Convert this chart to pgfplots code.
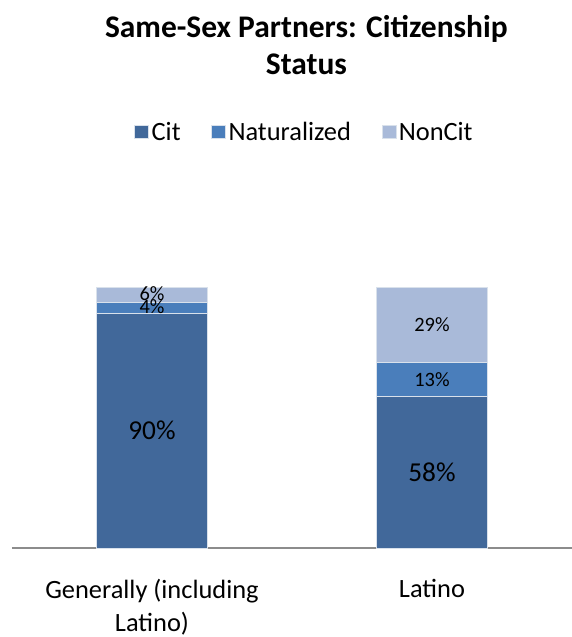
\documentclass[border=0pt]{standalone}
\usepackage{pgfplots}
\pgfplotsset{compat=1.18}
\usepackage{fontspec}
\setmainfont{Carlito}
\definecolor{cit}{HTML}{41689A}
\definecolor{nat}{HTML}{4A7EBB}
\definecolor{non}{HTML}{A9BAD9}
\begin{document}
\begin{tikzpicture}
\begin{axis}[
  at={(9pt,66.75pt)}, anchor=south west,
  scale only axis, width=420pt, height=195.75pt,
  ybar stacked, bar width=83pt,
  xmin=-0.5, xmax=1.5, ymin=0, ymax=100,
  axis y line=none, axis x line*=bottom,
  x axis line style={draw=gray!90, line width=1pt, -},
  xtick={0,1}, xtick style={draw=none},
  xticklabels={{Generally (including\\Latino)},{Latino}},
  xticklabel style={align=center, font=\fontsize{19.8}{24.75}\selectfont, yshift=-20pt},
  legend style={at={(axis description cs:0.523,1.594)}, anchor=center, draw=none,
    font=\fontsize{19.8}{22}\selectfont, legend columns=-1,
    /tikz/every even column/.append style={column sep=21pt}},
  legend image code/.code={\fill[#1] (0pt,-5pt) rectangle (10.5pt,5pt);},
  clip=false,
]
\addplot[fill=cit, draw=white!80!cit, line width=0.4pt] coordinates {(0,90) (1,58)};
\addplot[fill=nat, draw=white!80!cit, line width=0.4pt] coordinates {(0,4) (1,13)};
\addplot[fill=non, draw=white!80!cit, line width=0.4pt] coordinates {(0,6) (1,29)};
\legend{Cit,Naturalized,NonCit}
\coordinate (l1) at (axis cs:0,45);
\coordinate (l2) at (axis cs:1,29);
\coordinate (l3) at (axis cs:0,92.3);
\coordinate (l4) at (axis cs:0,97.3);
\coordinate (l5) at (axis cs:1,64.5);
\coordinate (l6) at (axis cs:1,85.5);
\end{axis}
\node[font=\fontsize{20.5}{22}\selectfont] at (l1) {90\%};
\node[font=\fontsize{20.5}{22}\selectfont] at (l2) {58\%};
\node[font=\fontsize{15.3}{16}\selectfont] at (l3) {4\%};
\node[font=\fontsize{15.3}{16}\selectfont] at (l4) {6\%};
\node[font=\fontsize{15.3}{16}\selectfont] at (l5) {13\%};
\node[font=\fontsize{15.3}{16}\selectfont] at (l6) {29\%};
\node[font=\bfseries\fontsize{23.6}{27.75}\selectfont, align=center] at (229.8pt,443.9pt) {Same-Sex Partners: Citizenship\\Status};
\pgfresetboundingbox
\path[use as bounding box] (0,0) rectangle (429pt,477.75pt);
\end{tikzpicture}
\end{document}
